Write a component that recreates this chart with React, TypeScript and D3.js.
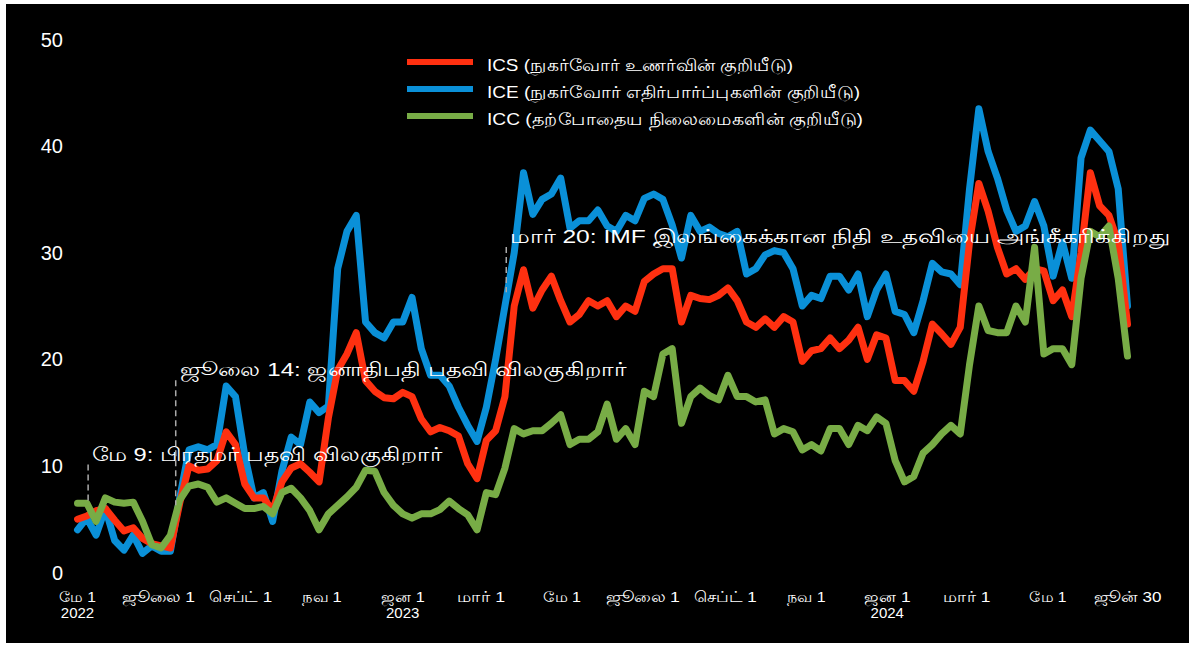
import React from 'react'
import * as d3 from 'd3'

const W = 1195
const H = 647

// weekly readings, May 1 2022 .. Jun 30 2024
const weeks = d3.timeDay.range(new Date(2022, 4, 1), new Date(2024, 6, 1), 7)

const ics = [
  5.0, 5.3, 5.8, 6.0, 4.9, 3.9, 4.2, 3.2, 2.7, 2.5,
  2.3, 6.5, 10.0, 9.6, 9.7, 10.5, 13.2, 12.0, 8.3, 7.0,
  7.0, 5.8, 8.5, 9.8, 10.2, 9.4, 8.5, 14.5, 19.0, 20.5,
  22.5, 18.0, 17.0, 16.4, 16.3, 16.9, 16.5, 14.4, 13.2, 13.6,
  13.3, 12.8, 10.2, 8.8, 12.4, 13.3, 16.5, 25.0, 28.4, 24.8,
  26.5, 27.8, 25.5, 23.5, 24.2, 25.5, 25.0, 25.5, 24.0, 25.0,
  24.5, 27.3, 28.0, 28.5, 28.5, 23.5, 26.0, 25.7, 25.6, 26.0,
  26.7, 25.5, 23.5, 23.0, 23.8, 23.0, 24.0, 23.5, 19.8, 20.8,
  21.0, 22.0, 21.0, 21.8, 23.0, 20.0, 22.3, 22.0, 18.0, 18.0,
  17.0, 19.8, 23.3, 22.4, 21.4, 23.0, 31.0, 36.5, 33.9, 30.5,
  28.0, 28.5, 27.5, 28.5, 28.3, 25.5, 26.5, 24.0, 30.0, 37.5,
  34.4, 33.5, 31.0, 23.3,
]

const ice = [
  4.0, 5.1, 3.5, 6.0, 3.0, 2.1, 3.5, 1.8, 2.5, 2.0,
  2.0, 7.0, 11.5, 11.8, 11.5, 12.0, 17.5, 16.5, 11.0, 7.0,
  7.5, 4.8, 9.5, 12.7, 12.0, 16.0, 15.0, 15.6, 28.5, 32.0,
  33.5, 23.5, 22.5, 22.0, 23.5, 23.5, 25.8, 21.0, 18.5, 18.5,
  17.5, 15.5, 13.8, 12.3, 15.5, 20.0, 25.0, 30.0, 37.5, 33.6,
  35.0, 35.5, 37.0, 32.3, 33.0, 33.0, 34.0, 32.5, 32.0, 33.5,
  33.0, 35.1, 35.5, 35.0, 32.6, 29.5, 33.5, 32.0, 32.4, 31.8,
  31.5, 32.0, 28.0, 28.5, 29.8, 30.2, 30.0, 28.5, 25.0, 26.0,
  25.7, 27.8, 27.8, 26.5, 28.0, 24.0, 26.5, 28.0, 24.5, 24.2,
  22.5, 25.5, 29.0, 28.2, 28.0, 27.0, 36.0, 43.5, 39.5, 37.0,
  34.0, 32.0, 32.5, 34.8, 32.5, 27.8, 31.0, 27.6, 38.9, 41.5,
  40.5, 39.5, 36.0, 25.0,
]

const icc = [
  6.5, 6.5, 4.8, 7.0, 6.6, 6.5, 6.6, 4.8, 2.6, 2.3,
  3.5, 6.8, 8.1, 8.3, 8.0, 6.6, 7.0, 6.5, 6.0, 6.0,
  6.2, 5.5, 7.5, 7.9, 7.0, 5.8, 4.0, 5.5, 6.3, 7.1,
  8.0, 9.6, 9.5, 7.5, 6.3, 5.5, 5.1, 5.5, 5.5, 5.9,
  6.7, 6.0, 5.4, 4.0, 7.5, 7.3, 9.8, 13.5, 13.0, 13.3,
  13.3, 14.0, 14.8, 12.0, 12.5, 12.5, 13.2, 15.8, 12.5, 13.5,
  12.0, 17.0, 16.5, 20.5, 21.0, 14.0, 16.5, 17.3, 16.6, 16.2,
  18.5, 16.5, 16.5, 16.0, 16.2, 13.0, 13.5, 13.2, 11.5, 12.0,
  11.4, 13.5, 13.5, 12.0, 13.8, 13.3, 14.6, 14.0, 10.5, 8.5,
  9.0, 11.2, 12.0, 13.0, 13.8, 13.0, 19.5, 25.0, 22.7, 22.5,
  22.5, 25.0, 23.5, 30.5, 20.5, 21.0, 21.0, 19.5, 27.6, 32.0,
  31.5, 32.5, 27.6, 20.3,
]

const seriesLabels = [
  'ICS (நுகர்வோர் உணர்வின் குறியீடு)',
  'ICE (நுகர்வோர் எதிர்பார்ப்புகளின் குறியீடு)',
  'ICC (தற்போதைய நிலைமைகளின் குறியீடு)',
]
const seriesColors = ['#ff3010', '#0a90d8', '#78ac46']

const tickDates = [
  '2022-05-01', '2022-07-01', '2022-09-01', '2022-11-01', '2023-01-01', '2023-03-01', '2023-05-01',
  '2023-07-01', '2023-09-01', '2023-11-01', '2024-01-01', '2024-03-01', '2024-05-01', '2024-06-30',
]
const tickLabels = [
  'மே 1', 'ஜூலை 1', 'செப்ட் 1', 'நவ 1', 'ஜன 1', 'மார் 1', 'மே 1',
  'ஜூலை 1', 'செப்ட் 1', 'நவ 1', 'ஜன 1', 'மார் 1', 'மே 1', 'ஜூன் 30',
]
const tickYears = ['2022', '', '', '', '2023', '', '', '', '', '', '2024', '', '', '']

const yTicks = [0, 10, 20, 30, 40, 50]

const eventDates = ['2022-05-09', '2022-07-14', '2023-03-20']
const eventLabels = [
  'மே 9: பிரதமர் பதவி விலகுகிறார்',
  'ஜூலை 14: ஜனாதிபதி பதவி விலகுகிறார்',
  'மார் 20: IMF இலங்கைக்கான நிதி உதவியை அங்கீகரிக்கிறது',
]
// label height and dashed-line foot, in index units
const eventTextAt = [10.5, 18.4, 30.9]
const eventFootAt = [6.5, 6.3, 26.3]

// the reference's Tamil face runs wider than the local fallback: fitted widths (px)
const tickWidths = [37, 73, 63, 40, 44, 48, 38, 74, 63, 39, 47, 47, 37, 68]
const legendWidths = [306, 373, 376]
const eventWidths = [350, 447, 659]

const parse = d3.timeParse('%Y-%m-%d')
const font = 'Liberation Sans, Arial, Helvetica, sans-serif'

export default function App() {
  const x = d3.scaleTime()
    .domain([new Date(2022, 4, 1), new Date(2024, 5, 30)])
    .range([77.5, 1127.5])
  const y = d3.scaleLinear().domain([0, 50]).range([572.5, 39.5])

  const line = d3.line<number>()
    .x((_, i) => x(weeks[i]))
    .y(d => y(d))

  // draw order: ICE under ICS under ICC
  const order = [1, 0, 2]
  const data = [ics, ice, icc]

  return (
    <div style={{ position: 'absolute', left: 0, top: 0 }}>
      <svg width={W} height={H} style={{ display: 'block', background: '#fff' }}>
        <rect x={6} y={4} width={W - 12} height={H - 8} fill="#000" />

        {yTicks.map(t => (
          <text key={t} x={63} y={y(t)} dy="0.35em" textAnchor="end" fill="#fff"
            fontFamily={font} fontSize={20}>{t}</text>
        ))}

        {tickDates.map((d, i) => {
          const px = x(parse(d)!)
          return (
            <g key={d} fill="#fff" fontFamily={font} fontSize={15} textAnchor="middle">
              <text x={px} y={602} textLength={tickWidths[i]} lengthAdjust="spacingAndGlyphs">
                {tickLabels[i]}
              </text>
              {tickYears[i] && <text x={px} y={618}>{tickYears[i]}</text>}
            </g>
          )
        })}

        {order.map(k => (
          <path key={k} d={line(data[k]) || ''} fill="none" stroke={seriesColors[k]}
            strokeWidth={7} strokeLinejoin="round" strokeLinecap="round" />
        ))}

        {eventDates.map((d, i) => {
          const px = x(parse(d)!)
          return (
            <g key={d}>
              <line x1={px} x2={px} y1={y(eventTextAt[i]) + 4} y2={y(eventFootAt[i])}
                stroke="#aaa" strokeWidth={1.5} strokeDasharray="6,4" />
              <text x={px + 4} y={y(eventTextAt[i])} fill="#fff" fontFamily={font}
                fontSize={19} textLength={eventWidths[i]} lengthAdjust="spacingAndGlyphs">
                {eventLabels[i]}
              </text>
            </g>
          )
        })}

        {seriesLabels.map((s, i) => (
          <g key={s} transform={`translate(407,${62 + i * 27})`}>
            <line x1={0} x2={66} stroke={seriesColors[i]} strokeWidth={6} />
            <text x={80} y={9} fill="#fff" fontFamily={font} fontSize={17}
              textLength={legendWidths[i]} lengthAdjust="spacingAndGlyphs">{s}</text>
          </g>
        ))}
      </svg>
    </div>
  )
}
